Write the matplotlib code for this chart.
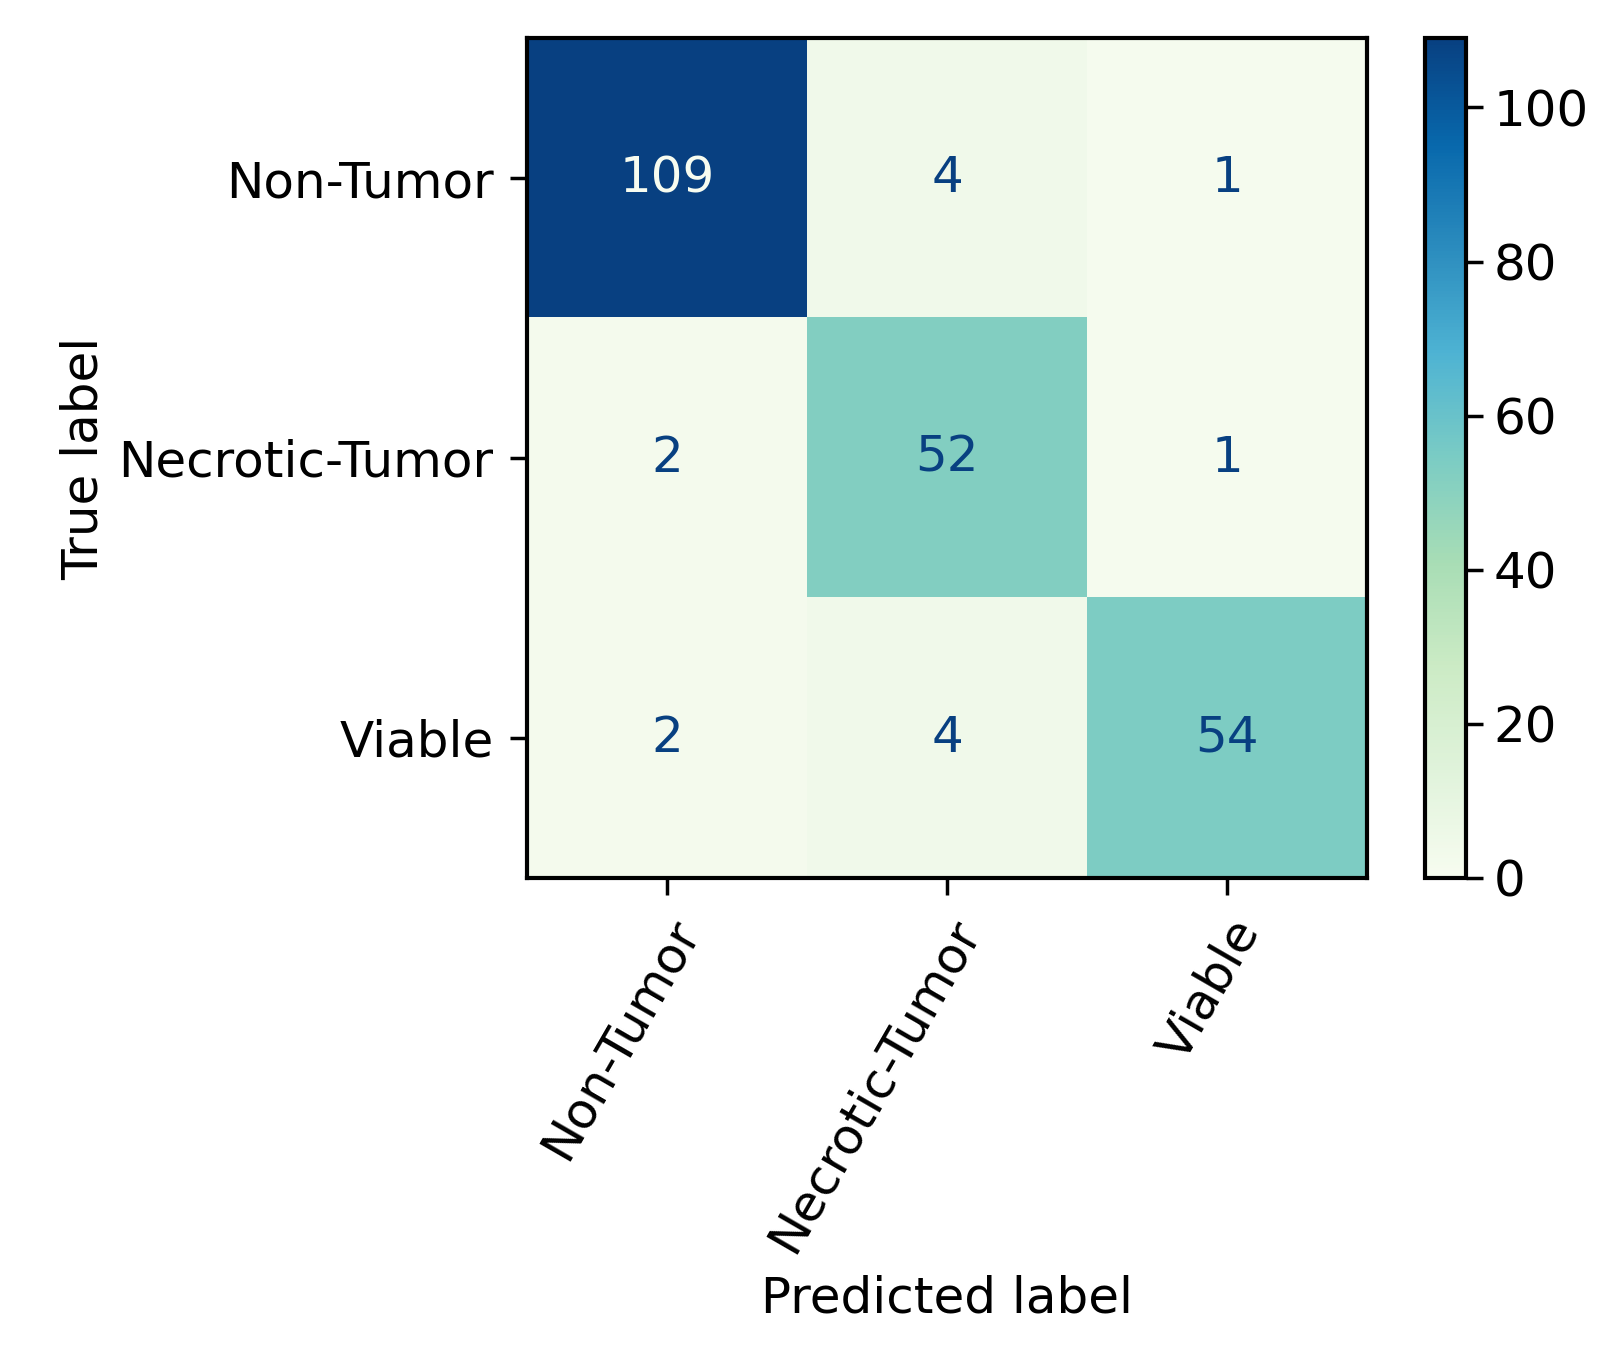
import numpy as np
import matplotlib
matplotlib.use('Agg')
import matplotlib.pyplot as plt

class_names = ['Non-Tumor', 'Necrotic-Tumor', 'Viable']
conf_mat = np.array([[109, 4, 1],
                     [2, 52, 1],
                     [2, 4, 54]])
cbar_ticks = [0, 20, 40, 60, 80, 100]

cmap = plt.get_cmap('GnBu')
fs = 36

fig = plt.figure(figsize=(16.16, 13.59), dpi=100)
ax = fig.add_axes([0.326, 0.354, 0.52, 0.618])
cax = fig.add_axes([0.8815, 0.354, 0.0255, 0.618])

im = ax.imshow(conf_mat, cmap=cmap, vmin=0, vmax=conf_mat.max(), aspect='auto')
thresh = conf_mat.max() / 2.0
for i in range(conf_mat.shape[0]):
    for j in range(conf_mat.shape[1]):
        c = cmap(0.0) if conf_mat[i, j] > thresh else cmap(1.0)
        ax.text(j, i, str(conf_mat[i, j]), ha='center', va='center', color=c, fontsize=fs)

ax.set_xticks(range(len(class_names)))
ax.set_yticks(range(len(class_names)))
ax.set_xticklabels(class_names, rotation=60, ha='right', rotation_mode='anchor', fontsize=fs)
ax.set_yticklabels(class_names, fontsize=fs)
ax.tick_params(axis='both', length=12, width=2.5, pad=12)
ax.tick_params(axis='x', pad=12)
ax.set_xlabel('Predicted label', fontsize=fs, labelpad=10)
ax.set_ylabel('True label', fontsize=fs, labelpad=8)
for s in ax.spines.values():
    s.set_linewidth(3)

cb = fig.colorbar(im, cax=cax, ticks=cbar_ticks)
cb.ax.tick_params(labelsize=fs, length=12, width=2.5, pad=8)
cb.outline.set_linewidth(3)

fig.savefig('out.png', dpi=100, facecolor='white')
